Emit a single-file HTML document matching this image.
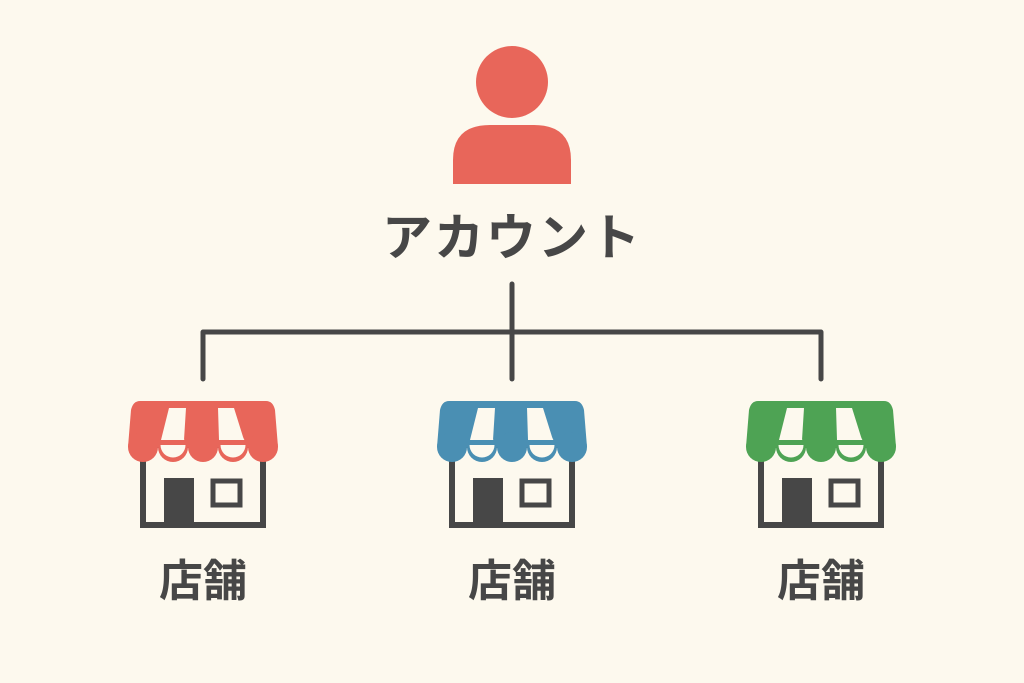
<!DOCTYPE html>
<html><head><meta charset="utf-8"><style>
html,body{margin:0;padding:0;background:#fdf9ee;}
svg{display:block;}
text{font-family:"Liberation Sans","Noto Sans CJK JP",sans-serif;font-weight:bold;fill:#474747;}
</style></head><body>
<svg width="1024" height="683" viewBox="0 0 1024 683" xmlns="http://www.w3.org/2000/svg">
<rect width="1024" height="683" fill="#fdf9ee"/>
<defs>
<g id="store">
  <rect x="-60" y="445" width="120" height="80" fill="none" stroke="#474747" stroke-width="6"/>
  <rect x="-39" y="478" width="30" height="50" fill="#474747"/>
  <rect x="10" y="481" width="27" height="24" fill="none" stroke="#474747" stroke-width="5"/>
</g>
</defs>
<!-- person -->
<circle cx="512" cy="82" r="36" fill="#e8665a"/>
<path d="M453,184 L453,160 Q453,125 490,125 L534,125 Q571,125 571,160 L571,184 Z" fill="#e8665a"/>
<text x="512" y="255" font-size="50" text-anchor="middle" letter-spacing="2">アカウント</text>
<!-- connectors -->
<g stroke="#474747" stroke-width="5" fill="none" stroke-linecap="round" stroke-linejoin="round">
  <line x1="512" y1="284" x2="512" y2="379"/>
  <polyline points="203,379 203,332 821,332 821,379"/>
</g>
<!-- stores -->
<g transform="translate(203,0)">
  <use href="#store"/>
  <g fill="#e8665a"><path d="M-63,401 L63,401 Q70,401 72,410 L75,447 L-75,447 L-72,410 Q-70,401 -63,401 Z"/>
  <circle cx="-60" cy="447" r="15"/><circle cx="-30" cy="447" r="15"/><circle cx="0" cy="447" r="15"/><circle cx="30" cy="447" r="15"/><circle cx="60" cy="447" r="15"/></g>
  <g fill="#fdf9ee">
  <polygon points="-34,408 -17,408 -19,440 -42,440"/><polygon points="15,408 31,408 41,440 16,440"/>
  <circle cx="-30" cy="445" r="12.5"/><circle cx="30" cy="445" r="12.5"/></g>
  <rect x="-44" y="440" width="88" height="5" fill="#e8665a"/>
  <text x="0" y="596" font-size="44" text-anchor="middle">店舗</text>
</g>
<g transform="translate(512,0)">
  <use href="#store"/>
  <g fill="#4a8fb3"><path d="M-63,401 L63,401 Q70,401 72,410 L75,447 L-75,447 L-72,410 Q-70,401 -63,401 Z"/>
  <circle cx="-60" cy="447" r="15"/><circle cx="-30" cy="447" r="15"/><circle cx="0" cy="447" r="15"/><circle cx="30" cy="447" r="15"/><circle cx="60" cy="447" r="15"/></g>
  <g fill="#fdf9ee">
  <polygon points="-34,408 -17,408 -19,440 -42,440"/><polygon points="15,408 31,408 41,440 16,440"/>
  <circle cx="-30" cy="445" r="12.5"/><circle cx="30" cy="445" r="12.5"/></g>
  <rect x="-44" y="440" width="88" height="5" fill="#4a8fb3"/>
  <text x="0" y="596" font-size="44" text-anchor="middle">店舗</text>
</g>
<g transform="translate(821,0)">
  <use href="#store"/>
  <g fill="#4ea354"><path d="M-63,401 L63,401 Q70,401 72,410 L75,447 L-75,447 L-72,410 Q-70,401 -63,401 Z"/>
  <circle cx="-60" cy="447" r="15"/><circle cx="-30" cy="447" r="15"/><circle cx="0" cy="447" r="15"/><circle cx="30" cy="447" r="15"/><circle cx="60" cy="447" r="15"/></g>
  <g fill="#fdf9ee">
  <polygon points="-34,408 -17,408 -19,440 -42,440"/><polygon points="15,408 31,408 41,440 16,440"/>
  <circle cx="-30" cy="445" r="12.5"/><circle cx="30" cy="445" r="12.5"/></g>
  <rect x="-44" y="440" width="88" height="5" fill="#4ea354"/>
  <text x="0" y="596" font-size="44" text-anchor="middle">店舗</text>
</g>
</svg>
</body></html>
